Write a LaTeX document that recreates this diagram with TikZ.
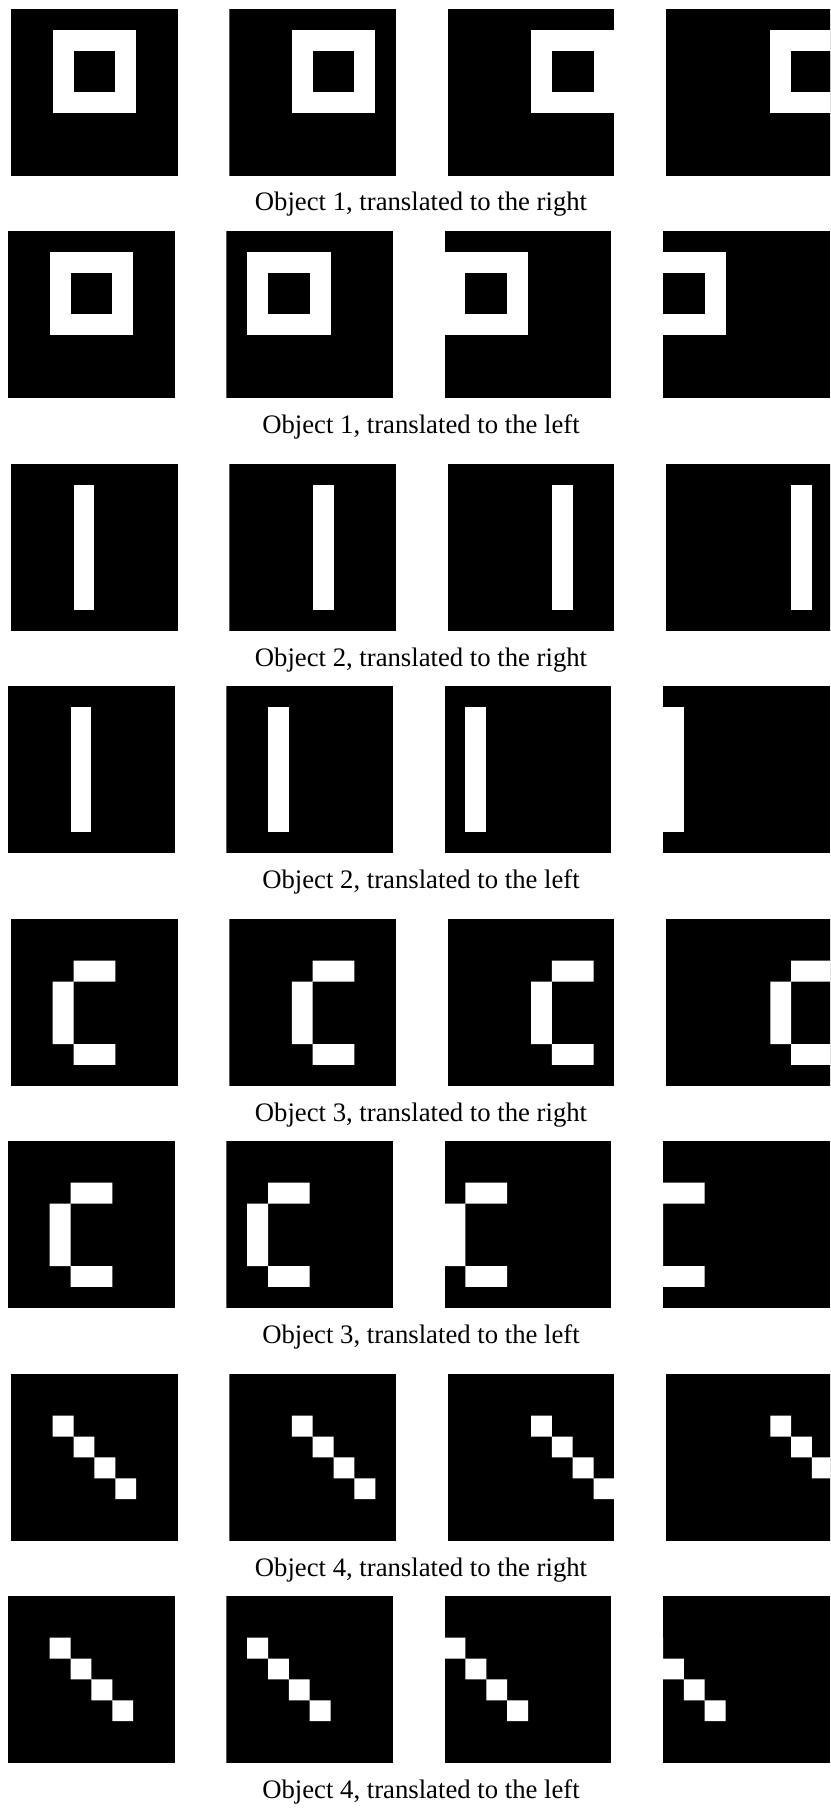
\documentclass[tikz,border=0pt]{standalone}
\usepackage{fontspec}
\setmainfont{Liberation Serif}

% cac hinh (don vi: o luoi 8x8), \dich = so o dich ngang
\newcommand{\hinhA}{\fill[white] (2+\dich,1) rectangle (6+\dich,5); \fill[black] (3+\dich,2) rectangle (5+\dich,4);}
\newcommand{\hinhB}{\fill[white] (3+\dich,1) rectangle (4+\dich,7);}
\newcommand{\hinhC}{\fill[white] (3+\dich,2) rectangle (5+\dich,3) (2+\dich,3) rectangle (3+\dich,6) (3+\dich,6) rectangle (5+\dich,7);}
\newcommand{\hinhD}{\fill[white] (2+\dich,2) rectangle (3+\dich,3) (3+\dich,3) rectangle (4+\dich,4) (4+\dich,4) rectangle (5+\dich,5) (5+\dich,5) rectangle (6+\dich,6);}

% mot o anh: goc trai tren (#1,#2), dich #3, hinh #4
\newcommand{\oanh}[4]{%
  \begin{scope}[shift={(#1,#2)}, scale=20.85]
    \clip (0,0) rectangle (8,8);
    \fill[black] (0,0) rectangle (8,8);
    \def\dich{#3}#4
  \end{scope}}

\tikzset{chuthich/.style={anchor=base, inner sep=0pt, font=\fontsize{13.35}{16}\selectfont}}

\begin{document}
\begin{tikzpicture}[x=0.5pt, y=-0.5pt]

    \useasboundingbox (0,0) rectangle (830,1813);
    \clip (0,0) rectangle (830,1813);

    % 1. Vat 1
    \oanh{11}{9}{0}{\hinhA} \oanh{229.3}{9}{1}{\hinhA} \oanh{447.6}{9}{2}{\hinhA} \oanh{666}{9}{3}{\hinhA}
    \node[chuthich] (c1r) at (421,211) {Object 1, translated to the right};
    \oanh{8}{231}{0}{\hinhA} \oanh{226.3}{231}{-1}{\hinhA} \oanh{444.6}{231}{-2}{\hinhA} \oanh{663}{231}{-3}{\hinhA}
    \node[chuthich] (c1l) at (421,433) {Object 1, translated to the left};

    % 2. Vat 2
    \oanh{11}{464}{0}{\hinhB} \oanh{229.3}{464}{1}{\hinhB} \oanh{447.6}{464}{2}{\hinhB} \oanh{666}{464}{3}{\hinhB}
    \node[chuthich] (c2r) at (421,666) {Object 2, translated to the right};
    \oanh{8}{686}{0}{\hinhB} \oanh{226.3}{686}{-1}{\hinhB} \oanh{444.6}{686}{-2}{\hinhB} \oanh{663}{686}{-3}{\hinhB}
    \node[chuthich] (c2l) at (421,888) {Object 2, translated to the left};

    % 3. Vat 3
    \oanh{11}{919}{0}{\hinhC} \oanh{229.3}{919}{1}{\hinhC} \oanh{447.6}{919}{2}{\hinhC} \oanh{666}{919}{3}{\hinhC}
    \node[chuthich] (c3r) at (421,1121) {Object 3, translated to the right};
    \oanh{8}{1141}{0}{\hinhC} \oanh{226.3}{1141}{-1}{\hinhC} \oanh{444.6}{1141}{-2}{\hinhC} \oanh{663}{1141}{-3}{\hinhC}
    \node[chuthich] (c3l) at (421,1343) {Object 3, translated to the left};

    % 4. Vat 4
    \oanh{11}{1374}{0}{\hinhD} \oanh{229.3}{1374}{1}{\hinhD} \oanh{447.6}{1374}{2}{\hinhD} \oanh{666}{1374}{3}{\hinhD}
    \node[chuthich] (c4r) at (421,1576) {Object 4, translated to the right};
    \oanh{8}{1596}{0}{\hinhD} \oanh{226.3}{1596}{-1}{\hinhD} \oanh{444.6}{1596}{-2}{\hinhD} \oanh{663}{1596}{-3}{\hinhD}
    \node[chuthich] (c4l) at (421,1798) {Object 4, translated to the left};

\end{tikzpicture}
\end{document}
